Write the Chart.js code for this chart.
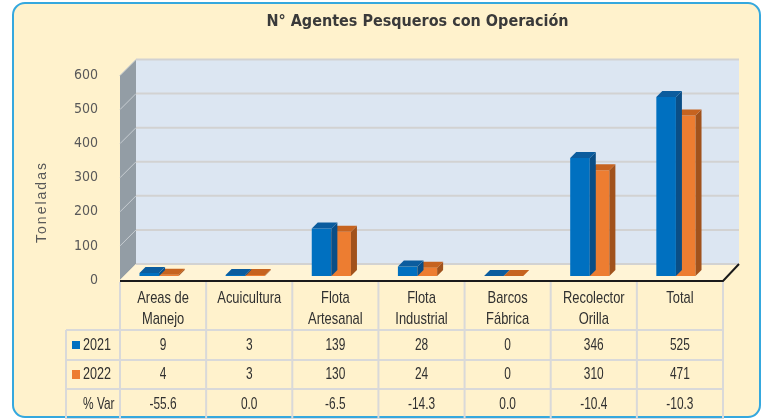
<!DOCTYPE html>
<html>
<head>
<meta charset="utf-8">
<script src="https://cdn.jsdelivr.net/npm/chart.js@4.4.1/dist/chart.umd.min.js"></script>
<style>
  html, body { margin: 0; padding: 0; background: #ffffff; }
  #wrap { width: 762px; height: 419px; }
</style>
</head>
<body>
<div id="wrap"><canvas id="agentesChart" width="762" height="419"></canvas></div>
<script>
const categories = [['Areas de', 'Manejo'], ['Acuicultura'], ['Flota', 'Artesanal'], ['Flota', 'Industrial'], ['Barcos', 'Fábrica'], ['Recolector', 'Orilla'], ['Total']];
const values2021 = [9, 3, 139, 28, 0, 346, 525];
const values2022 = [4, 3, 130, 24, 0, 310, 471];
const pctVar = [-55.6, 0.0, -6.5, -14.3, 0.0, -10.4, -10.3];
const yTicks = [0, 100, 200, 300, 400, 500, 600];

const FONT = "'Liberation Sans Narrow', 'DejaVu Sans Condensed', sans-serif";
const TABLE_FONT = "'Liberation Sans', Arial, sans-serif";
const TEXT = '#303030';

// 3D offsets relative to the bar plane
const front = { dx: 4, dy: 4 };
const back = { dx: 20, dy: -12 };
const depth = { dx: 6, dy: -6 };

const faces = [
    { top: '#0b5c9e', side: '#0a4e86' },
    { top: '#c6631f', side: '#a1521c' }
];

function poly(ctx, pts, fill) {
    ctx.beginPath();
    ctx.moveTo(pts[0][0], pts[0][1]);
    for (let i = 1; i < pts.length; i++) ctx.lineTo(pts[i][0], pts[i][1]);
    ctx.closePath();
    ctx.fillStyle = fill;
    ctx.fill();
}

function line(ctx, x1, y1, x2, y2) {
    ctx.beginPath();
    ctx.moveTo(x1, y1);
    ctx.lineTo(x2, y2);
    ctx.stroke();
}

// narrow text: regular face squeezed horizontally
function narrowText(ctx, t, x, y, sx) {
    ctx.save();
    ctx.translate(x, y);
    ctx.scale(sx, 1);
    ctx.fillText(t, 0, 0);
    ctx.restore();
}

const scene3d = {
    id: 'scene3d',
    beforeDraw(chart) {
        const { ctx, chartArea: a, scales: { y } } = chart;
        ctx.save();
        // outer panel
        ctx.beginPath();
        ctx.roundRect(13, 3, 747, 414, 12);
        ctx.fillStyle = '#fff2cc';
        ctx.fill();
        ctx.lineWidth = 2;
        ctx.strokeStyle = '#35a8de';
        ctx.stroke();

        const fl = a.left + front.dx, fr = a.right + front.dx;
        const bl = a.left + back.dx, br = a.right + back.dx;
        const fb = y.getPixelForValue(0) + front.dy, ft = y.getPixelForValue(600) + front.dy;
        const bb = y.getPixelForValue(0) + back.dy, bt = y.getPixelForValue(600) + back.dy;

        poly(ctx, [[bl, bt], [br, bt], [br, bb], [bl, bb]], '#dce6f2');
        poly(ctx, [[fl, ft], [bl, bt], [bl, bb], [fl, fb]], '#939da5');
        poly(ctx, [[fl, fb], [fr, fb], [br, bb], [bl, bb]], '#fff4d6');

        ctx.lineWidth = 2;
        yTicks.forEach(v => {
            const yb = y.getPixelForValue(v) + back.dy;
            const yf = y.getPixelForValue(v) + front.dy;
            ctx.strokeStyle = '#d2d2d2';
            line(ctx, bl, yb, br, yb);
            if (v > 0) {
                ctx.strokeStyle = '#c7cdd2';
                ctx.lineWidth = 1;
                line(ctx, fl, yf, bl, yb);
                ctx.lineWidth = 2;
            }
        });

        ctx.strokeStyle = '#1a1a1a';
        ctx.lineWidth = 2;
        ctx.beginPath();
        ctx.moveTo(fl, fb + 1);
        ctx.lineTo(fr, fb + 1);
        ctx.lineTo(br, bb);
        ctx.stroke();

        // axis title
        ctx.translate(42, 202);
        ctx.rotate(-Math.PI / 2);
        ctx.font = "14px 'Liberation Sans', Arial, sans-serif";
        ctx.letterSpacing = '2px';
        ctx.fillStyle = '#595959';
        ctx.textAlign = 'center';
        ctx.textBaseline = 'middle';
        ctx.fillText('Toneladas', 0, 0);
        ctx.restore();
    },
    afterDatasetDraw(chart, args) {
        const { ctx } = chart;
        const f = faces[args.index];
        ctx.save();
        args.meta.data.forEach(bar => {
            const { x, y, base, width } = bar.getProps(['x', 'y', 'base', 'width'], true);
            const l = x - width / 2, r = x + width / 2;
            poly(ctx, [[r, y], [r + depth.dx, y + depth.dy], [r + depth.dx, base + depth.dy], [r, base]], f.side);
            poly(ctx, [[l, y], [r, y], [r + depth.dx, y + depth.dy], [l + depth.dx, y + depth.dy]], f.top);
        });
        ctx.restore();
    }
};

const dataTable = {
    id: 'dataTable',
    afterDraw(chart) {
        const { ctx, chartArea: a, scales: { x } } = chart;
        const colW = (a.right - a.left) / categories.length;
        const left = a.left + front.dx, right = a.right + front.dx;
        const top = a.bottom + front.dy + 2;
        const rows = [330, 360, 389, 419];
        ctx.save();
        ctx.strokeStyle = '#d9d9d9';
        ctx.lineWidth = 2;
        rows.forEach(yy => line(ctx, 66, yy, right, yy));
        line(ctx, 66, rows[0], 66, 419);
        for (let i = 0; i <= categories.length; i++) {
            line(ctx, left + i * colW, top, left + i * colW, 419);
        }

        ctx.fillStyle = TEXT;
        ctx.textAlign = 'center';
        ctx.textBaseline = 'middle';
        ctx.font = '17px ' + TABLE_FONT;
        categories.forEach((lab, i) => {
            const cx = x.getPixelForValue(i) + front.dx;
            lab.forEach((t, j) => narrowText(ctx, t, cx, 298 + j * 21, 0.76));
            narrowText(ctx, String(values2021[i]), cx, 345, 0.7);
            narrowText(ctx, String(values2022[i]), cx, 374.5, 0.7);
            narrowText(ctx, pctVar[i].toFixed(1), cx, 404, 0.7);
        });

        ctx.textAlign = 'left';
        ctx.fillStyle = '#0070c0';
        ctx.fillRect(72, 341, 8, 8);
        ctx.fillStyle = '#ed7d31';
        ctx.fillRect(72, 370, 8, 9);
        ctx.fillStyle = TEXT;
        narrowText(ctx, '2021', 83, 345, 0.74);
        narrowText(ctx, '2022', 83, 374.5, 0.74);
        narrowText(ctx, '% Var', 83, 404, 0.7);
        ctx.restore();
    }
};

const ctx = document.getElementById('agentesChart').getContext('2d');
const agentesChart = new Chart(ctx, {
    type: 'bar',
    data: {
        labels: categories,
        datasets: [{
            label: '2021',
            data: values2021,
            backgroundColor: '#0070c0'
        }, {
            label: '2022',
            data: values2022,
            backgroundColor: '#ed7d31'
        }]
    },
    options: {
        responsive: false,
        animation: false,
        layout: {
            padding: { top: 0, left: 0, right: 43, bottom: 143 }
        },
        datasets: {
            bar: { barPercentage: 1, categoryPercentage: 0.455 }
        },
        plugins: {
            legend: { display: false },
            tooltip: { enabled: false },
            title: {
                display: true,
                text: 'N° Agentes Pesqueros con Operación',
                fullSize: false,
                color: '#3a3a3a',
                font: { family: FONT, size: 16, weight: 'bold', lineHeight: 1.2 },
                padding: { top: 12, bottom: 40.3 }
            }
        },
        scales: {
            x: { display: false },
            y: {
                min: 0,
                max: 600,
                grid: { display: false },
                border: { display: false },
                ticks: {
                    stepSize: 100,
                    color: '#595959',
                    padding: 10,
                    labelOffset: 4,
                    font: { family: FONT, size: 14 }
                },
                afterFit(scale) { scale.width = 116; }
            }
        }
    },
    plugins: [scene3d, dataTable]
});
</script>
</body>
</html>
